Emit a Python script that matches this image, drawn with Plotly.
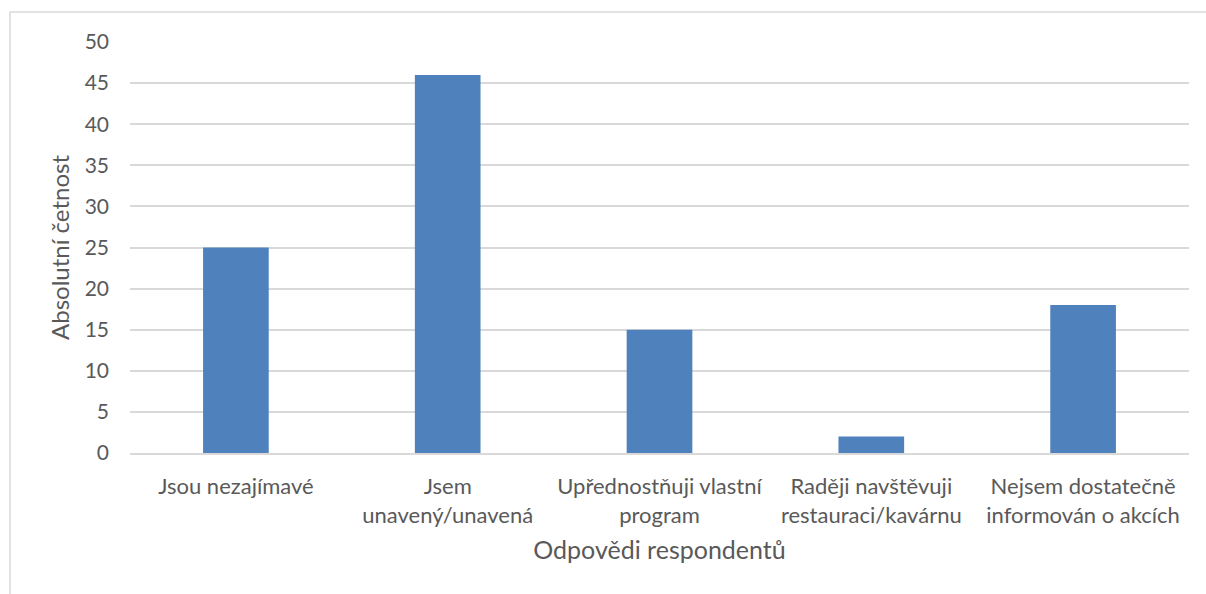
import plotly.graph_objects as go

categories = [
    "Jsou nezajímavé",
    "Jsem<br>unavený/unavená",
    "Upřednostňuji vlastní<br>program",
    "Raději navštěvuji<br>restauraci/kavárnu",
    "Nejsem dostatečně<br>informován o akcích",
]
counts = [25, 46, 15, 2, 18]
y_ticks = [0, 5, 10, 15, 20, 25, 30, 35, 40, 45, 50]

text_color = "#595959"
grid_color = "#d9d9d9"
font_family = "Lato, Open Sans, sans-serif"

fig = go.Figure(
    go.Bar(
        x=categories,
        y=counts,
        marker=dict(color="#4f81bd", line=dict(width=0)),
        width=0.31,
    )
)

fig.update_layout(
    width=1206,
    height=594,
    margin=dict(l=130, r=17, t=42, b=141),
    paper_bgcolor="white",
    plot_bgcolor="white",
    font=dict(family=font_family, size=21, color=text_color),
    showlegend=False,
    shapes=[
        dict(
            type="rect", xref="paper", yref="paper",
            x0=-120 / 1059, x1=1.1, y0=-0.5, y1=1 + 30 / 411,
            line=dict(color=grid_color, width=1.5),
            fillcolor="rgba(0,0,0,0)", layer="below",
        )
    ],
)

fig.update_xaxes(
    showgrid=False,
    showline=True,
    linecolor=grid_color,
    linewidth=1.5,
    ticks="",
    tickfont=dict(size=22, color=text_color),
    ticklabelstandoff=13,
    title=dict(text="Odpovědi respondentů", font=dict(size=25, color=text_color), standoff=15),
)

fig.update_yaxes(
    range=[0, 50],
    tickvals=y_ticks,
    showgrid=True,
    gridcolor=grid_color,
    gridwidth=1.5,
    zeroline=False,
    showline=False,
    ticks="",
    tickfont=dict(size=21, color=text_color),
    ticklabelstandoff=20,
    title=dict(text="Absolutní četnost", font=dict(size=24, color=text_color), standoff=8),
)

fig.write_html("out.html")
